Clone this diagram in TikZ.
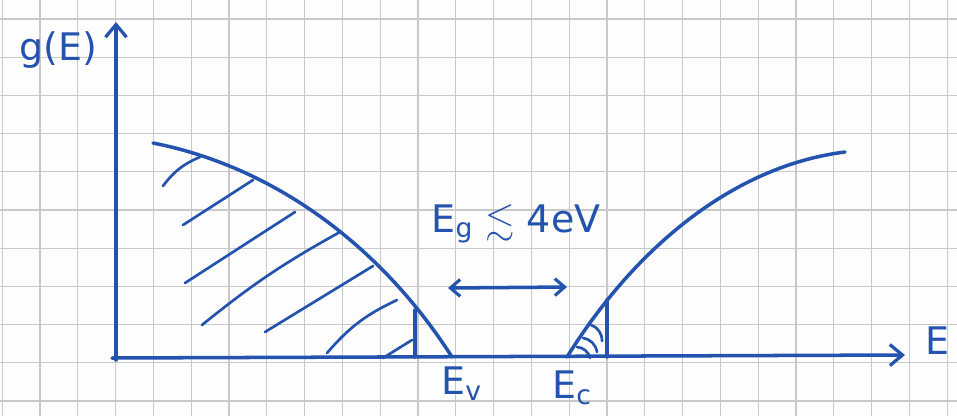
\documentclass[tikz,border=0pt]{standalone}
\usepackage{fontspec}
\setmainfont{DejaVu Sans}
\usepackage{amsmath}
\usepackage{amssymb}
\usetikzlibrary{arrows.meta,calc}
\definecolor{murekkepMavi}{HTML}{2353AE}
\definecolor{kareGri}{HTML}{C9C9C9}
\definecolor{kagitBeyaz}{HTML}{FDFDFD}
\tikzset{
  kalem/.style={murekkepMavi,line width=2.5pt,line cap=round,line join=round},
  tarama/.style={murekkepMavi,line width=1.9pt,line cap=round},
  kare/.style={kareGri,line width=0.9pt},
  okUcu/.style={-{Straight Barb[length=9pt,width=15pt,line width=2.3pt]}},
  ciftOk/.style={{Straight Barb[length=7pt,width=12pt,line width=2.2pt]}-{Straight Barb[length=7pt,width=12pt,line width=2.2pt]}},
  yazi/.style={murekkepMavi,font=\fontsize{27}{32}\selectfont,inner sep=0pt}
}
\begin{document}
\begin{tikzpicture}[x=0.025cm,y=-0.025cm]
\useasboundingbox[fill=kagitBeyaz] (0,0) rectangle (957,416);
\foreach \i in {0,...,25} \draw[kare] ({2.2+37.8*\i},0) -- ({2.2+37.8*\i},416);
\foreach \j in {0,...,10} \draw[kare] (0,{19+38.2*\j}) -- (957,{19+38.2*\j});
\coordinate (orijin) at (116,360);
\coordinate (yUst) at (116,22);
\coordinate (xSol) at (112,358);
\coordinate (xSag) at (905,355);
\coordinate (Ev) at (452,357);
\coordinate (Ec) at (567,357);
\coordinate (gapSol) at (448,288);
\coordinate (gapSag) at (567,287);
\draw[kalem,okUcu] (orijin) -- (yUst);
\draw[kalem,okUcu] (xSol) -- (xSag);
\draw[kalem] (153,143) .. controls (280,168) and (385,252) .. (Ev);
\draw[kalem] (415,310) -- (415,357);
\draw[kalem] (Ec) .. controls (640,240) and (740,165) .. (845,152);
\draw[kalem] (607,300) -- (607,357);
\draw[tarama] (163,186) to[bend left=15] (200,157);
\draw[tarama] (183,225) -- (253,180);
\draw[tarama] (185,283) -- (295,212);
\draw[tarama] (202,325) to[bend left=5] (340,232);
\draw[tarama] (265,332) -- (373,266);
\draw[tarama] (327,353) to[bend left=12] (397,300);
\draw[tarama] (383,358) -- (412,340);
\draw[tarama] (591,325) to[bend left=35] (602,341);
\draw[tarama] (583,338) to[bend left=35] (597,352);
\draw[tarama] (577,347) to[bend left=35] (590,358);
\draw[kalem,ciftOk] (gapSol) -- (gapSag);
\node[yazi] (etiketG) at (58,50) {g(E)};
\node[yazi,anchor=west] (etiketE) at (925,341) {E};
\node[yazi] (etiketGap) at (516,224) {E\textsubscript{g} $\lesssim$ 4eV};
\node[yazi,anchor=north west] (etiketEv) at (441,367) {E\textsubscript{v}};
\node[yazi,anchor=north west] (etiketEc) at (552,371) {E\textsubscript{c}};
\end{tikzpicture}
\end{document}
